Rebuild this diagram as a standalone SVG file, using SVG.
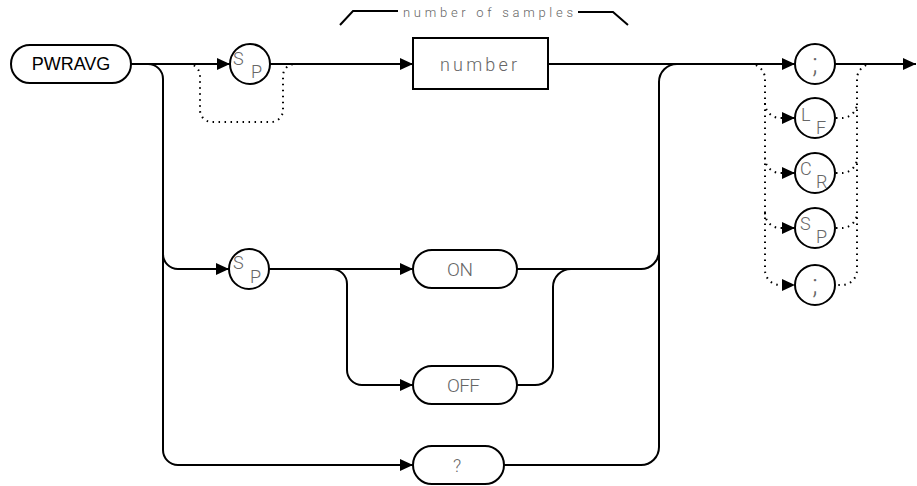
<svg xmlns="http://www.w3.org/2000/svg" width="917" height="486" viewBox="0 0 917 486">
<defs>
<marker id="arr" viewBox="0 0 13 12" refX="13" refY="6" markerWidth="13" markerHeight="12" markerUnits="userSpaceOnUse" orient="auto">
<path d="M0,0 L13,6 L0,12 z" fill="#000"/>
</marker>
</defs>
<style>
.ln{fill:none;stroke:#000;stroke-width:2}
.dt{fill:none;stroke:#000;stroke-width:2;stroke-dasharray:1.5 4.5}
.nd{fill:#fff;stroke:#000;stroke-width:2}
.t{font-family:Roboto,"Liberation Sans",sans-serif;font-weight:300;fill:#666}
.c{font-family:Roboto,"Liberation Sans",sans-serif;font-weight:300;fill:#666;font-size:18px}
.kw{font-family:"Liberation Sans",Arial,sans-serif;font-size:18px;fill:#000}
</style>
<rect width="917" height="486" fill="#fff"/>
<g id="connectors">
<path class="ln" d="M131,64 H230" marker-end="url(#arr)"/>
<path class="ln" d="M270,64 H413" marker-end="url(#arr)"/>
<path class="ln" d="M548,64 H795" marker-end="url(#arr)"/>
<path class="ln" d="M835,64 H916" marker-end="url(#arr)"/>
<path class="ln" d="M148,64 A15,15 0 0 1 163,79 V450 A15,15 0 0 0 178,465 H413" marker-end="url(#arr)"/>
<path class="ln" d="M163,254 A15,15 0 0 0 178,269 H229" marker-end="url(#arr)"/>
<path class="ln" d="M269,269 H413" marker-end="url(#arr)"/>
<path class="ln" d="M332,269 A15,15 0 0 1 347,284 V370 A15,15 0 0 0 362,385 H413" marker-end="url(#arr)"/>
<path class="ln" d="M517,269 H641 A18,18 0 0 0 659,251 V82 A18,18 0 0 1 677,64"/>
<path class="ln" d="M504,465 H641 A18,18 0 0 0 659,447 V251"/>
<path class="ln" d="M517,385 H535 A18,18 0 0 0 553,367 V287 A18,18 0 0 1 571,269"/>
<path class="dt" d="M188,64 A12,12 0 0 1 200,76 V110 A12,12 0 0 0 212,122 H271 A12,12 0 0 0 283,110 V76 A12,12 0 0 1 295,64"/>
<path class="dt" d="M750,64 A15,15 0 0 1 765,79 V270 A15,15 0 0 0 780,285 H795" marker-end="url(#arr)"/>
<path class="dt" d="M765,103 A15,15 0 0 0 780,118 H795" marker-end="url(#arr)"/>
<path class="dt" d="M765,158 A15,15 0 0 0 780,173 H795" marker-end="url(#arr)"/>
<path class="dt" d="M765,213 A15,15 0 0 0 780,228 H795" marker-end="url(#arr)"/>
<path class="dt" d="M872,64 A15,15 0 0 0 857,79 V270 A15,15 0 0 1 842,285 H836"/>
<path class="dt" d="M836,118 H842 A15,15 0 0 0 857,103"/>
<path class="dt" d="M836,173 H842 A15,15 0 0 0 857,158"/>
<path class="dt" d="M836,228 H842 A15,15 0 0 0 857,213"/>
<path class="ln" d="M340,25 L353,11 H398"/>
<path class="ln" d="M578,12 H613 L628,25"/>
</g>
<g id="label-samples">
<text class="t" x="403" y="17" font-size="13" textLength="170" lengthAdjust="spacing">number of samples</text>
</g>
<g id="node-pwravg">
<rect class="nd" x="11" y="45" width="120" height="38" rx="19"/>
<text class="kw" x="71" y="70" text-anchor="middle">PWRAVG</text>
</g>
<g id="node-sp1">
<circle class="nd" cx="250" cy="64" r="20"/>
<text class="c" x="233" y="65">S</text>
<text class="c" x="251" y="78">P</text>
</g>
<g id="node-number">
<rect class="nd" x="413" y="38" width="135" height="51"/>
<text class="t" x="440" y="71" font-size="18" textLength="77" lengthAdjust="spacing">number</text>
</g>
<g id="node-sp2">
<circle class="nd" cx="249" cy="269" r="20"/>
<text class="c" x="233" y="269">S</text>
<text class="c" x="250" y="283">P</text>
</g>
<g id="node-on">
<rect class="nd" x="413" y="250" width="104" height="38" rx="19"/>
<text class="t" x="447" y="276" font-size="19" textLength="26" lengthAdjust="spacing">ON</text>
</g>
<g id="node-off">
<rect class="nd" x="413" y="366" width="104" height="38" rx="19"/>
<text class="t" x="447" y="392" font-size="19" textLength="33" lengthAdjust="spacing">OFF</text>
</g>
<g id="node-query">
<rect class="nd" x="413" y="446" width="91" height="38" rx="19"/>
<text class="t" x="457" y="472" font-size="18" text-anchor="middle">?</text>
</g>
<g id="node-semi1">
<circle class="nd" cx="815" cy="64" r="20"/>
<text class="t" x="815" y="73" font-size="28" text-anchor="middle">;</text>
</g>
<g id="node-lf">
<circle class="nd" cx="815" cy="118" r="20"/>
<text class="c" x="801" y="121">L</text>
<text class="c" x="816" y="134">F</text>
</g>
<g id="node-cr">
<circle class="nd" cx="815" cy="173" r="20"/>
<text class="c" x="800" y="175">C</text>
<text class="c" x="816" y="188">R</text>
</g>
<g id="node-sp3">
<circle class="nd" cx="815" cy="228" r="20"/>
<text class="c" x="800" y="230">S</text>
<text class="c" x="816" y="243">P</text>
</g>
<g id="node-semi2">
<circle class="nd" cx="815" cy="285" r="20"/>
<text class="t" x="815" y="294" font-size="28" text-anchor="middle">;</text>
</g>
</svg>
